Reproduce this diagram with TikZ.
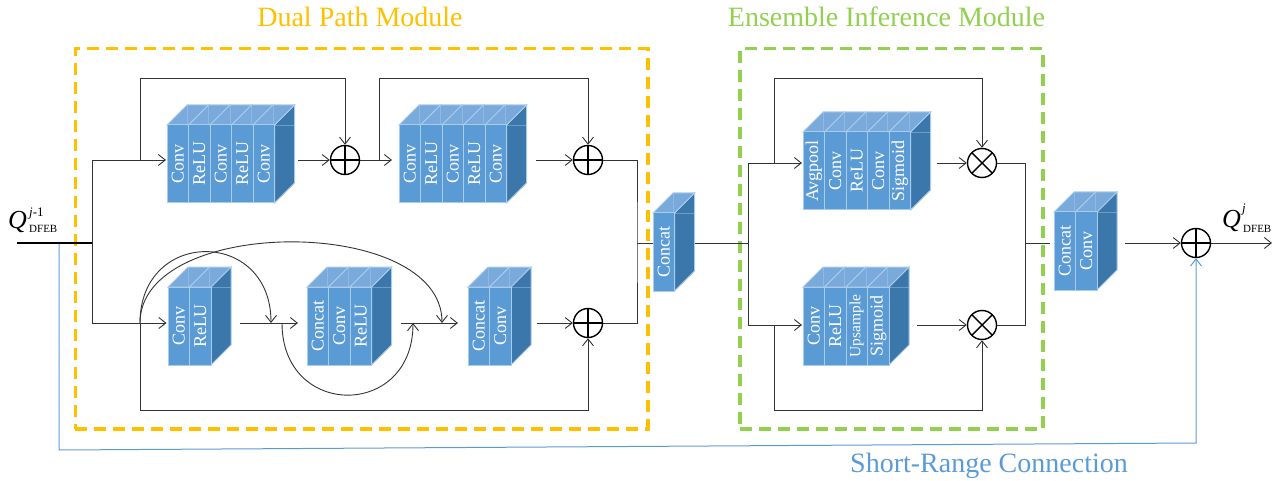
\documentclass[tikz,border=0pt]{standalone}
\usepackage{fontspec}
\setmainfont{Liberation Serif}
\usetikzlibrary{arrows.meta,calc}
\definecolor{dporange}{HTML}{FFC000}
\definecolor{eigreen}{HTML}{92D050}
\definecolor{srblue}{HTML}{5B9BD5}
\definecolor{cfront}{HTML}{5B9BD5}
\definecolor{ctop}{HTML}{7AAADB}
\definecolor{cside}{HTML}{3B77AB}
\definecolor{cedge}{HTML}{A9CCEB}
\definecolor{lin}{HTML}{333333}
\tikzset{
  conn/.style={draw=lin, line width=0.9pt},
  arr/.style={conn, -{Straight Barb[length=7pt,width=11pt,line width=0.9pt]}},
  bluearr/.style={draw=srblue, line width=1pt, -{Straight Barb[length=7pt,width=11pt,line width=1pt]}},
  sumnode/.style={circle, draw=black, line width=1.4pt, minimum size=29pt, inner sep=0pt},
  plusnode/.style={sumnode, path picture={\draw[line width=1.4pt] (path picture bounding box.north) -- (path picture bounding box.south) (path picture bounding box.west) -- (path picture bounding box.east);}},
  timesnode/.style={sumnode, path picture={\draw[line width=1.4pt] (path picture bounding box.north west) -- (path picture bounding box.south east) (path picture bounding box.south west) -- (path picture bounding box.north east);}},
  frontface/.style={fill=cfront, draw=cedge, line width=1pt},
  topface/.style={fill=ctop, draw=cedge, line width=1pt},
  sideface/.style={fill=cside, draw=cedge, line width=1pt},
  ghost/.style={draw=cedge, line width=0.6pt, opacity=0.45},
  blocklabel/.style={rotate=90, text=white, inner sep=0pt, font=\fontsize{18}{18}\selectfont},
  modbox/.style={line width=3.5pt, dash pattern=on 12pt off 7pt, inner sep=0pt, anchor=north west},
  title/.style={font=\fontsize{28}{28}\selectfont, anchor=base, inner sep=0pt},
}
% name, x, y (front top-left), sections, labels, in-gap, out-gap
\newcommand\cubeblock[7]{%
  \pgfmathsetmacro\cubeW{#4*21.5}%
  \pgfmathsetmacro\cubeR{#2+#4*21.5}%
  \filldraw[sideface] (\cubeR,#3) -- (\cubeR+20,#3-20) -- (\cubeR+20,#3+58) -- (\cubeR,#3+78) -- cycle;
  \draw[ghost] (\cubeR,#3) -- (\cubeR+20,#3);
  \foreach \lab [count=\i] in {#5} {%
    \pgfmathsetmacro\xa{#2+(\i-1)*21.5}%
    \pgfmathsetmacro\xb{#2+\i*21.5}%
    \filldraw[topface] (\xa,#3) -- (\xa+20,#3-20) -- (\xb+20,#3-20) -- (\xb,#3) -- cycle;
    \draw[ghost] (\xa+20,#3-20) -- (\xa+20,#3);
    \filldraw[frontface] (\xa,#3) rectangle (\xb,#3+78);
    \node[blocklabel] (#1-l\i) at (\xa+10.75,#3+39) {\lab};
  }%
  \node[inner sep=0pt, minimum width=\cubeW pt, minimum height=78pt, anchor=north west] (#1) at (#2,#3) {};
  \coordinate (#1-in) at ([xshift=-#6pt]#1.west);
  \coordinate (#1-out) at ([xshift=20pt+#7pt]#1.east);
}
\begin{document}
\begin{tikzpicture}[x=1pt,y=-1pt]
\useasboundingbox (0,0) rectangle (1282,481);

% module boxes and titles
\node[modbox, draw=dporange, minimum width=572.5pt, minimum height=380pt] (dpm) at (73.5,47) {};
\node[modbox, draw=eigreen, minimum width=303pt, minimum height=380pt] (eim) at (738,47) {};
\node[title, text=dporange] (dpmtitle) at (360,27) {Dual Path Module};
\node[title, text=eigreen] (eimtitle) at (886.5,27) {Ensemble Inference Module};
\node[title, text=srblue] (srtitle) at (989,472) {Short-Range Connection};

% blocks
\cubeblock{b1}{167}{125}{5}{Conv,ReLU,Conv,ReLU,Conv}{1}{3}
\cubeblock{b2}{399}{125}{5}{Conv,ReLU,Conv,ReLU,Conv}{7}{9}
\cubeblock{b3}{168}{287}{2}{Conv,ReLU}{1.5}{8.5}
\cubeblock{b4}{307}{287}{3}{Concat,Conv,ReLU}{9}{9}
\cubeblock{b5}{468}{287}{2}{Concat,Conv}{10}{6}
\cubeblock{b6}{653}{213}{1}{Concat}{0}{0}
\cubeblock{b7}{803}{132}{5}{Avgpool,Conv,ReLU,Conv,Sigmoid}{1}{6}
\cubeblock{b8}{803}{287}{4}{Conv,ReLU,{\fontsize{15.5}{15.5}\selectfont Upsample},Sigmoid}{1}{8}
\cubeblock{b9}{1054}{212}{2}{Concat,Conv}{4}{8}

% sum / product nodes
\node[plusnode] (o1) at (345,160) {};
\node[plusnode] (o2) at (588,160) {};
\node[plusnode] (o3) at (588,323) {};
\node[timesnode] (t1) at (982,163) {};
\node[timesnode] (t2) at (982,325) {};
\node[plusnode] (o4) at (1196,243) {};

% helper coordinates
\coordinate (qin) at (17,243);
\coordinate (s1) at (92,243);
\coordinate (sT) at (92,160);
\coordinate (sB) at (92,323);
\coordinate (k1) at (140,160);
\coordinate (k2) at (379,160);
\coordinate (k3) at (140,323);
\coordinate (topL) at (0,78);
\coordinate (botL) at (0,410);
\coordinate (m1) at (637,243);
\coordinate (m2) at (748,243);
\coordinate (sT2) at (748,163);
\coordinate (sB2) at (748,325);
\coordinate (k4) at (774,163);
\coordinate (k5) at (774,325);
\coordinate (m3) at (1025,243);
\coordinate (c1e) at (271,323);
\coordinate (c2e) at (442,323);
\coordinate (c3s) at (282,323);
\coordinate (c3e) at (413,323);
\coordinate (qout) at (1272,243);
\coordinate (bl1) at (59,243);
\coordinate (bl2) at (59,450);
\coordinate (bl3) at (1196,443);

% short-range connection
\draw[bluearr] (bl1) -- (bl2) -- (bl3) -- (o4);

% input
\draw[draw=black, line width=1.8pt] (qin) -- (s1);
\draw[conn] (sT) -- (sB);

% top path
\draw[arr] (sT) -- (b1-in |- o1);
\draw[arr] (k1) -- (k1 |- topL) -| (o1);
\draw[arr] (b1-out |- o1) -- (o1);
\draw[arr] (o1) -- (b2-in |- o2);
\draw[arr] (k2) -- (k2 |- topL) -| (o2);
\draw[arr] (b2-out |- o2) -- (o2);
\draw[conn] (o2) -| (m1) |- (o3);
\draw[conn] (m1) -- (b6-in |- m1);

% bottom path
\draw[arr] (sB) -- (b3-in |- o3);
\draw[arr] (b3-out |- o3) -- (b4-in |- o3);
\draw[arr] (b4-out |- o3) -- (b5-in |- o3);
\draw[arr] (b5-out |- o3) -- (o3);
\draw[arr] (k3) -- (k3 |- botL) -| (o3);
\draw[arr] (k3) .. controls (140,228) and (271,228) .. (c1e);
\draw[arr] (k3) .. controls (140,215) and (442,215) .. (c2e);
\draw[arr] (c3s) .. controls (282,419) and (413,419) .. (c3e);

% ensemble inference
\draw[conn] (b6-out |- m1) -- (m2);
\draw[conn] (sT2) -- (sB2);
\draw[arr] (sT2) -- (b7-in |- t1);
\draw[arr] (k4) -- (k4 |- topL) -| (t1);
\draw[arr] (b7-out |- t1) -- (t1);
\draw[arr] (sB2) -- (b8-in |- t2);
\draw[arr] (b8-out |- t2) -- (t2);
\draw[arr] (k5) -- (k5 |- botL) -| (t2);
\draw[conn] (t1) -| (m3) |- (t2);
\draw[conn] (m3) -- (b9-in |- m3);
\draw[arr] (b9-out |- o4) -- (o4);
\draw[arr] (o4) -- (qout);

% labels
\node[anchor=base west, inner sep=0pt, font=\fontsize{26}{26}\selectfont\itshape] (qinQ) at (8,229) {Q};
\node[anchor=base west, inner sep=0pt, font=\fontsize{13}{13}\selectfont] (qinsup) at (29,216) {\textit{j}-1};
\node[anchor=base west, inner sep=0pt, font=\fontsize{11}{11}\selectfont] (qinsub) at (29,233) {DFEB};
\node[anchor=base west, inner sep=0pt, font=\fontsize{26}{26}\selectfont\itshape] (qoutQ) at (1222,228) {Q};
\node[anchor=base west, inner sep=0pt, font=\fontsize{13}{13}\selectfont\itshape] (qoutsup) at (1242,213) {j};
\node[anchor=base west, inner sep=0pt, font=\fontsize{11}{11}\selectfont] (qoutsub) at (1243,233) {DFEB};
\end{tikzpicture}
\end{document}
